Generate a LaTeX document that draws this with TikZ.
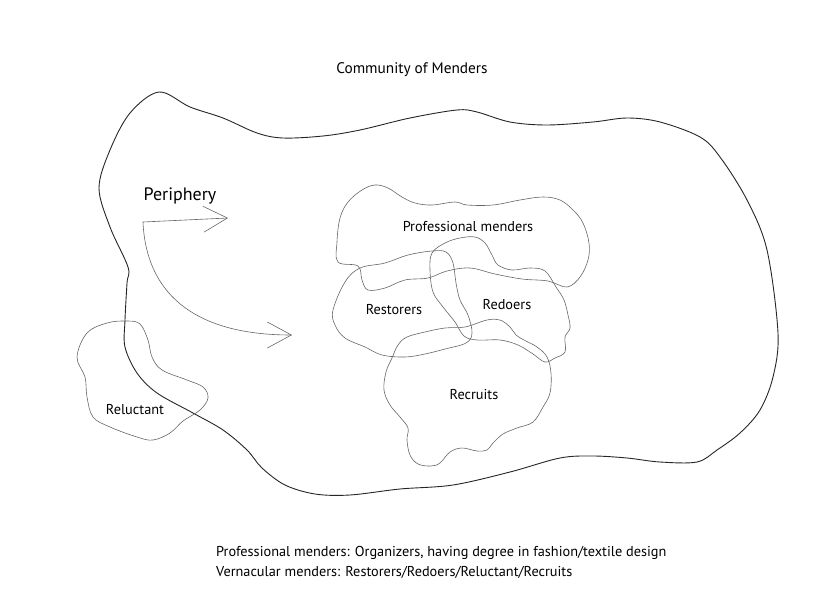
\documentclass[tikz,border=0pt]{standalone}
\usepackage{fontspec}
\setmainfont{PT Sans}
\usetikzlibrary{arrows.meta}

\begin{document}
\begin{tikzpicture}[x=1pt,y=-1pt,
	outerline/.style={draw=black!85,line width=0.9pt},
	blobline/.style={draw=black!60,line width=0.6pt},
	label/.style={inner sep=0pt,font=\fontsize{14.3}{16}\selectfont},
	>={Straight Barb[length=24pt,width=26pt]}]

	\useasboundingbox (0,0) rectangle (839,603);

	% all coordinates below are pixels of the page, y grows downwards

	\node[label,font=\fontsize{15.3}{18}\selectfont] (title) at (412,70) {Community of Menders};

	% the whole community
	\draw[outerline] plot[smooth cycle,tension=0.55] coordinates {
		(159,92) (190,107) (223,118) (257,133) (283,138) (323,136) (360,130) (410,118)
		(457,110) (477,112) (510,122) (547,125) (593,122) (627,118) (660,122) (700,137)
		(720,157) (747,200) (767,250) (778,333) (773,377) (760,410) (740,433) (717,450)
		(697,462) (660,462) (627,458) (593,456) (560,458) (510,472) (453,485) (400,489)
		(350,495) (315,494) (285,485) (262,468) (247,450) (223,430) (193,413) (157,393)
		(137,373) (125,347) (125,320) (127,283) (128,267) (110,227) (99,188) (110,150)
		(130,113)};

	% reluctant menders, half outside
	\draw[blobline] plot[smooth cycle,tension=0.6] coordinates {
		(77,357) (87,333) (107,323) (127,321) (140,324) (148,340) (152,357) (162,370)
		(187,380) (203,387) (208,398) (200,410) (183,421) (170,433) (153,440) (137,437)
		(110,427) (93,417) (87,397) (85,377)};

	% professional menders
	\draw[blobline] plot[smooth cycle,tension=0.6] coordinates {
		(338,262) (337,242) (340,218) (348,202) (362,190) (375,185) (388,188) (402,197)
		(415,203) (432,205) (455,202) (467,205) (493,205) (520,200) (543,197) (560,200)
		(573,210) (583,223) (589,243) (588,260) (580,277) (567,287) (548,281) (522,279)
		(495,274) (470,268) (447,271) (428,278) (405,280) (385,288) (368,290) (362,280)
		(358,266)};

	% restorers
	\draw[blobline] plot[smooth cycle,tension=0.6] coordinates {
		(333,310) (345,282) (360,268) (385,263) (408,255) (432,251) (446,252) (453,263)
		(456,283) (460,300) (468,315) (472,333) (466,343) (445,349) (425,354) (405,357)
		(382,355) (365,347) (345,338) (335,325)};

	% redoers
	\draw[blobline] plot[smooth cycle,tension=0.6] coordinates {
		(430,270) (432,253) (445,243) (460,238) (475,237) (485,243) (492,255) (498,265)
		(512,270) (530,268) (545,271) (556,287) (564,300) (568,315) (570,328) (565,337)
		(565,352) (555,358) (545,362) (533,354) (518,345) (500,340) (477,340) (464,336)
		(455,322) (443,307) (433,292)};

	% recruits
	\draw[blobline] plot[smooth cycle,tension=0.6] coordinates {
		(407,337) (425,332) (445,328) (465,327) (487,320) (500,320) (510,327) (516,335)
		(524,340) (537,347) (547,357) (551,373) (550,393) (543,407) (533,422) (517,428)
		(503,434) (493,443) (487,450) (477,451) (462,448) (450,452) (440,463) (431,466)
		(418,464) (410,455) (407,440) (408,428) (400,417) (390,405) (384,390) (386,372)
		(392,358) (398,345)};

	\node[label] (prof) at (468,227) {Professional menders};
	\node[label] (rest) at (394,310) {Restorers};
	\node[label] (redo) at (507,305) {Redoers};
	\node[label] (recr) at (474,395) {Recruits};
	\node[label] (relu) at (135,410) {Reluctant};

	% the periphery and its two ways in
	\node[label,font=\fontsize{18}{20}\selectfont] (peri) at (180,196) {Periphery};
	\coordinate (in1) at (228,218);
	\coordinate (bend) at (143,222);
	\coordinate (in2) at (292,335);
	\draw[blobline,<->] (in1) -- (bend) .. controls (146,290) and (190,335) .. (in2);

	\node[label,anchor=west,align=left,font=\fontsize{14.3}{20}\selectfont] (note) at (216,562)
		{Professional menders: Organizers, having degree in fashion/textile design\\
		 Vernacular menders: Restorers/Redoers/Reluctant/Recruits};

\end{tikzpicture}
\end{document}
